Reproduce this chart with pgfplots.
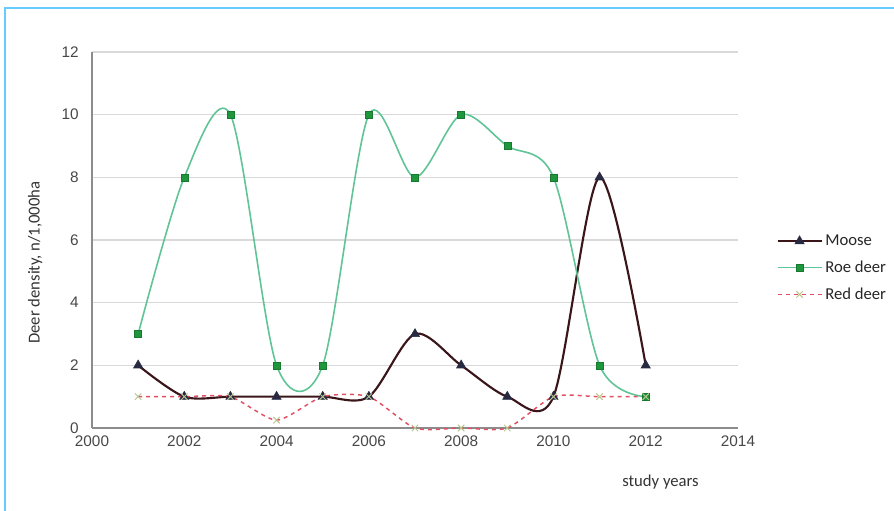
\documentclass[border=0pt]{standalone}
\usepackage{fontspec}
\setmainfont{Liberation Sans}
\newfontfamily\calfont{Carlito}
\usepackage{pgfplots}
\pgfplotsset{compat=1.18}
\definecolor{framec}{RGB}{102,204,255}
\definecolor{moosel}{RGB}{58,22,26}
\definecolor{moosem}{RGB}{40,42,66}
\definecolor{roel}{RGB}{96,196,150}
\definecolor{roem}{RGB}{30,150,60}
\definecolor{redl}{RGB}{224,80,100}
\definecolor{redm}{RGB}{185,195,140}
\definecolor{gridc}{RGB}{217,217,217}
\definecolor{axc}{RGB}{140,140,140}
\begin{document}
\begin{tikzpicture}
\useasboundingbox (0pt,0pt) rectangle (670.5pt,383.25pt);
\draw[framec, line width=1.5pt] (3.375pt,-10pt) -- (3.375pt,376.9pt) -- (680pt,376.9pt);
\begin{axis}[
  at={(69pt,62.25pt)}, anchor=south west,
  scale only axis, width=484.5pt, height=282pt,
  xmin=2000, xmax=2014, ymin=0, ymax=12,
  xtick={2000,2002,...,2014}, ytick={0,2,...,12},
  axis x line*=bottom, axis y line*=left,
  axis line style={axc, line width=0.8pt, -},
  major tick length=0pt,
  ymajorgrids, grid style={gridc, line width=0.8pt},
  /pgf/number format/1000 sep={},
  /pgf/number format/assume math mode=true,
  ticklabel style={font=\fontsize{11.5}{13}\selectfont, text=black!72},
  xticklabel style={yshift=-2pt},
  yticklabel style={xshift=-6.5pt},
  ylabel={Deer density, n/1,000ha},
  ylabel style={at={(axis description cs:-0.088,0.44)}, anchor=center, rotate=0, font=\calfont\fontsize{12.5}{14}\selectfont, text=black!80},
  legend style={at={(axis description cs:1.053,0.4255)}, anchor=west, draw=none, fill=none,
    font=\calfont\fontsize{12.5}{14}\selectfont, row sep=6pt, text=black!85},
  legend cell align=left,
  legend image code/.code={\draw[mark repeat=2, mark phase=2, #1] plot coordinates {(0pt,0pt) (16.5pt,0pt) (33pt,0pt)};},
  clip=false,
]
\addplot[moosel, line width=1.6pt, smooth, tension=0.5, mark=triangle*, mark size=4pt,
  mark options={fill=moosem, draw=moosem, solid, line width=0.4pt}]
  coordinates {(2001,2) (2002,1) (2003,1) (2004,1) (2005,1) (2006,1) (2007,3) (2008,2) (2009,1) (2010,1) (2011,8) (2012,2)};
\addlegendentry{Moose}
\addplot[roel, line width=1.2pt, smooth, tension=0.5, mark=square*, mark size=2.6pt,
  mark options={fill=roem, draw=roem!80!black, solid, line width=0.3pt}]
  coordinates {(2001,3) (2002,8) (2003,10) (2004,2) (2005,2) (2006,10) (2007,8) (2008,10) (2009,9) (2010,8) (2011,2) (2012,1)};
\addlegendentry{Roe deer}
\addplot[redl, line width=1.1pt, dashed, smooth, tension=0.4, mark=x, mark size=3.4pt,
  mark options={draw=redm, solid, line width=0.7pt}]
  coordinates {(2001,1) (2002,1) (2003,1) (2004,0.25) (2005,1) (2006,1) (2007,0) (2008,0) (2009,0) (2010,1) (2011,1) (2012,1)};
\addlegendentry{Red deer}
\node[font=\calfont\fontsize{12.5}{14}\selectfont, text=black!80] at (axis description cs:0.88,-0.145) {study years};
\end{axis}
\end{tikzpicture}
\end{document}
